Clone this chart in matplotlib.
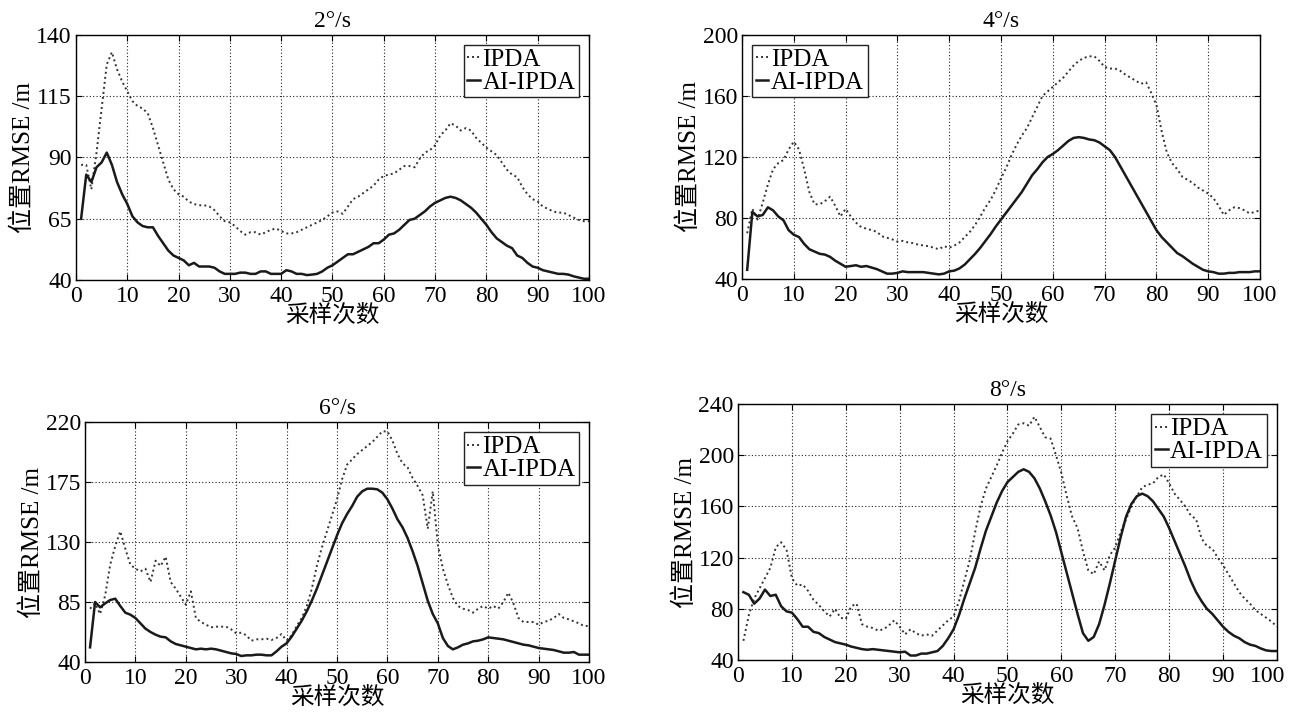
import matplotlib.pyplot as plt
import matplotlib.transforms as mtransforms
import numpy as np

plt.rcParams['font.family'] = ['Liberation Serif', 'Noto Sans CJK SC']
plt.rcParams['mathtext.fontset'] = 'stix'

samples = np.arange(1, 101)

# 2 deg/s
ipda_2 = [87, 87, 77, 92, 110, 128, 133, 126, 121, 117,
          113, 111, 110, 108, 102, 95, 88, 81, 77, 75,
          74, 72, 71, 70.5, 70.5, 70, 68.5, 66, 64, 63.5,
          62, 60, 58.5, 59.5, 59.5, 58.5, 59.5, 60.5, 61, 60,
          59, 59, 59.5, 60.5, 61.5, 62.5, 63.5, 64.5, 66, 67.5,
          68, 67, 70, 73, 74, 75.5, 77, 78.5, 81, 82.5,
          83, 83.5, 85, 86.5, 86.5, 86, 89.5, 92, 93, 95,
          99, 101, 104, 103, 101, 102, 101, 98, 96, 94,
          92.5, 91, 88, 85, 83, 82, 78, 75, 73, 72,
          70, 69, 68, 67.5, 67.5, 66.5, 65.5, 64.5, 64, 64]
ai_2 = [65, 83, 80, 86, 88, 92, 87, 80, 75, 71,
        66, 63.5, 62, 61.5, 61.5, 58, 55, 52, 50, 49,
        48, 46, 47, 45.5, 45.5, 45.5, 45, 43.5, 42.5, 42.5,
        42.5, 43, 43, 42.5, 42.5, 43.5, 43.5, 42.5, 42.5, 42.5,
        44, 43.5, 42.5, 42.5, 42, 42.2, 42.5, 43.5, 45, 46,
        47.5, 49, 50.5, 50.5, 51.5, 52.5, 53.5, 55, 55, 56.5,
        58.5, 59, 60.5, 62.5, 64.5, 65, 66.5, 68, 70, 71.5,
        72.5, 73.5, 74, 73.5, 72.5, 71, 69.5, 67.5, 65, 62.5,
        59.5, 57, 55.5, 54, 53, 50, 49, 47, 45.5, 45,
        44, 43.5, 43, 42.5, 42.5, 42.2, 41.5, 41, 40.5, 40.5]

# 4 deg/s
ipda_4 = [70, 86, 79, 90, 102, 112, 116, 118, 125, 130,
          125, 112, 97, 89, 89, 91, 94, 88, 81, 86,
          81, 77, 74, 73, 72, 71, 68, 67, 66, 64.5,
          65, 64, 63.5, 62.5, 62, 61.5, 60.5, 59.5, 61.5, 60.5,
          62, 64, 67.5, 71, 75.5, 81, 87, 92, 98.5, 106,
          113, 121, 128, 134, 139, 146, 153, 160, 163, 166,
          169, 172, 176, 180, 183, 185, 186, 186, 183, 179,
          178, 178, 176.5, 174, 172, 170, 168, 169, 162, 154,
          137, 123, 116, 112, 107, 105, 103, 100, 98, 96,
          93, 88, 82, 85, 87, 86.5, 85, 83, 84, 85]
ai_4 = [46, 84, 81, 82, 87, 85, 81, 78.5, 72, 69,
        67.5, 63, 59.5, 58, 56.5, 56, 54.5, 52, 50, 48,
        48.5, 49, 48, 48.5, 47.5, 46.5, 45, 43.5, 43.5, 44,
        45, 44.5, 44.5, 44.5, 44.5, 44, 43.5, 43, 43.5, 45,
        45.5, 47, 49.5, 53, 56.5, 60.5, 65, 69.5, 74.5, 79,
        83.5, 88, 92.5, 97, 102.5, 108, 112, 116.5, 120, 122,
        124.5, 127.5, 130.5, 132.5, 133, 132.5, 131.5, 131, 129.5, 127,
        124.5, 120, 114, 108, 102, 96, 90, 84, 78, 72,
        67.5, 64, 60.5, 57, 55, 52.5, 50, 48, 46, 45,
        44.5, 43.5, 43.5, 44, 44, 44.5, 44.5, 44.5, 45, 45]

# 6 deg/s
ipda_6 = [80, 84, 76, 90, 113, 127, 138, 125, 113, 110,
          108, 110, 100, 116, 112, 119, 100, 95, 89, 83,
          93, 73, 70, 68, 66, 66.5, 66.5, 66.5, 64.5, 61.5,
          62, 60, 56, 57, 57, 57.5, 56.5, 58, 61, 56,
          60, 67, 73, 82, 95, 112, 126, 138, 150, 162,
          177, 188, 192, 196, 199, 202, 205, 209, 213, 213,
          206, 196, 189, 186, 178, 172, 165, 140, 168, 128,
          110, 98, 88, 82, 80, 79, 77, 80, 82, 80,
          82, 80, 85, 92, 84, 73, 70, 70, 70, 68,
          70, 71, 73, 76, 73, 72, 70.5, 69, 67, 67]
ai_6 = [51, 85, 81, 84, 86.5, 87.5, 82, 77, 75.5, 73,
        69, 65, 62.5, 60.5, 59, 58.5, 55.5, 53.5, 52.5, 51.5,
        50.5, 49.5, 50, 49.5, 50, 49.5, 48.5, 47.5, 46.5, 46,
        44.5, 45, 45, 45.5, 45.5, 45, 45, 48, 51.5, 54,
        59, 65, 71, 78, 86, 95, 105, 115, 125, 135,
        144, 151, 157, 164, 168, 170, 170, 169.5, 167, 162,
        155, 147, 141, 133, 123, 112, 99, 86, 76, 69,
        58, 52, 49.5, 51, 53, 54, 55.5, 56, 57, 58.5,
        58, 57.5, 57, 56, 55, 54, 53, 52.5, 51.5, 50.5,
        50, 49.5, 49, 48, 47, 47, 47.5, 45.5, 45.5, 45.5]

# 8 deg/s
ipda_8 = [55, 75, 88, 96, 104, 112, 128, 132, 126, 104,
          98, 99, 94, 87, 83, 78, 74, 80, 73, 72,
          82, 84, 68, 66, 65, 63, 64, 67, 71, 66,
          60, 64, 61, 59, 60, 59, 63, 67, 71, 74,
          86, 102, 118, 140, 160, 174, 183, 192, 202, 211,
          217, 224, 225, 223, 230, 222, 214, 213, 200, 186,
          168, 152, 143, 125, 110, 107, 117, 110, 122, 128,
          140, 150, 160, 168, 175, 177, 178, 183, 185, 178,
          170, 165, 160, 153, 150, 135, 129, 127, 120, 114,
          107, 100, 93, 88, 84, 79, 76, 73, 70, 66]
ai_8 = [93, 91, 84, 88, 95, 90, 91, 82, 78, 77,
        72, 66, 66, 62, 61, 58, 56, 54, 53, 52,
        50.5, 49.5, 48.5, 48, 48.5, 48, 47.5, 47, 46.5, 46,
        46.5, 43.5, 43.5, 45, 45, 46, 47, 51, 57, 64,
        75, 88, 100, 112, 127, 141, 152, 163, 172, 179,
        183, 187, 189, 187, 182, 174, 164, 153, 140, 124,
        108, 92, 76, 61, 55, 58, 68, 83, 100, 118,
        136, 152, 162, 168, 170, 168, 164, 158, 152, 143,
        133, 123, 113, 102, 93, 86, 80, 76, 71, 66,
        62, 59, 57, 54, 52, 51, 49, 47.5, 47, 47]

titles = ['2°/s', '4°/s', '6°/s', '8°/s']
ipda_all = [ipda_2, ipda_4, ipda_6, ipda_8]
ai_all = [ai_2, ai_4, ai_6, ai_8]
yticks_all = [[40, 65, 90, 115, 140],
              [40, 80, 120, 160, 200],
              [40, 85, 130, 175, 220],
              [40, 80, 120, 160, 200, 240]]
legend_locs = ['upper right', 'upper left', 'upper right', 'upper right']

# axes boxes in figure fractions (left, bottom, width, height)
boxes = [[0.0589, 0.6095, 0.3977, 0.3417],
         [0.5752, 0.6109, 0.4016, 0.3403],
         [0.0659, 0.0767, 0.3907, 0.3347],
         [0.5721, 0.0795, 0.4178, 0.3570]]

fig = plt.figure(figsize=(12.9, 7.17), dpi=100)

for i in range(4):
    ax = fig.add_axes(boxes[i])
    ax.plot(samples, ipda_all[i], color='#333333', linestyle=(0, (1, 1.6)), linewidth=1.4, label='IPDA')
    ax.plot(samples, ai_all[i], color='#1a1a1a', linestyle='-', linewidth=1.8, label='AI-IPDA')
    yt = yticks_all[i]
    ax.set_xlim(0, 100)
    ax.set_ylim(yt[0], yt[-1])
    ax.set_xticks(range(0, 101, 10))
    ax.set_yticks(yt)
    ax.grid(True, color='#222222', linestyle=(0, (1, 2)), linewidth=0.8)
    ax.tick_params(direction='in', top=True, right=True, labelsize=17, length=4)
    ax.tick_params(axis='x', pad=4)
    ax.tick_params(axis='y', pad=3)
    for s in ax.spines.values():
        s.set_linewidth(1.0)
    ax.set_title(titles[i], fontsize=17, pad=6)
    ax.set_xlabel('采样次数', fontsize=17, labelpad=-1)
    ax.set_ylabel('位置RMSE /m', fontsize=18, labelpad=1)
    leg = ax.legend(loc=legend_locs[i], fontsize=18, handlelength=0.5, handletextpad=0.1,
                    fancybox=False, framealpha=1, edgecolor='#222222', borderpad=0.15,
                    labelspacing=0.0, borderaxespad=0.4)
    leg.get_frame().set_linewidth(1.0)
    if i == 3:
        # keep the last tick label inside the figure
        last = ax.get_xticklabels()[-1]
        last.set_transform(last.get_transform() + mtransforms.ScaledTranslation(-0.09, 0, fig.dpi_scale_trans))

fig.savefig('out.png', dpi=100)
